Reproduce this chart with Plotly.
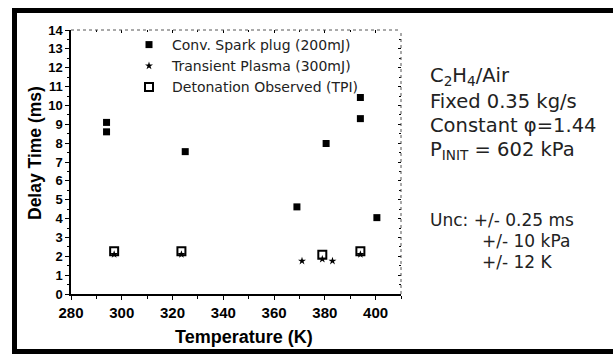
import plotly.graph_objects as go

# Data
spark_T = [294, 294, 325, 369, 380.5, 394, 394, 400.5]
spark_t = [9.1, 8.6, 7.55, 4.62, 7.98, 10.42, 9.3, 4.05]

plasma_T = [297, 323.5, 371, 379, 383, 394]
plasma_t = [2.1, 2.1, 1.75, 1.85, 1.75, 2.1]

deto_T = [297, 323.5, 379, 394]
deto_t = [2.27, 2.27, 2.08, 2.27]

x_ticks = [280, 300, 320, 340, 360, 380, 400]
y_ticks = list(range(0, 15))

names = ["Conv. Spark plug (200mJ)", "Transient Plasma (300mJ)", "Detonation Observed (TPI)"]

fig = go.Figure()
fig.add_trace(go.Scatter(x=spark_T, y=spark_t, mode="markers", name=names[0],
                         marker=dict(symbol="square", size=7, color="black")))
fig.add_trace(go.Scatter(x=plasma_T, y=plasma_t, mode="markers", name=names[1],
                         marker=dict(symbol="star", size=6, color="black")))
fig.add_trace(go.Scatter(x=deto_T, y=deto_t, mode="markers", name=names[2],
                         marker=dict(symbol="square-open", size=8, color="black",
                                     line=dict(width=2, color="black"))))

L, R, T, B = 71, 212, 30, 60
W, H = 613, 354
pw, ph = W - L - R, H - T - B

def px2x(px):
    return (px - L) / pw

def py2y(py):
    return (H - B - py) / ph

fig.update_layout(
    width=W, height=H,
    margin=dict(l=L, r=R, t=T, b=B),
    paper_bgcolor="white", plot_bgcolor="white",
    showlegend=True,
    legend=dict(x=px2x(126), y=py2y(29), xanchor="left", yanchor="top",
                bgcolor="rgba(0,0,0,0)", borderwidth=0,
                font=dict(family="DejaVu Sans", size=14, color="#222"),
                tracegroupgap=0, itemwidth=36),
    xaxis=dict(range=[280, 410], tickvals=x_ticks, ticks="outside", ticklen=4,
               tickcolor="black", showgrid=False, zeroline=False,
               showline=True, linecolor="black", linewidth=1.5,
               tickfont=dict(family="Liberation Sans, Arial", size=15, color="black", weight="bold"),
               minor=dict(dtick=10, ticks="outside", ticklen=3, tickcolor="black")),
    yaxis=dict(range=[0, 14], tickvals=y_ticks, ticks="outside", ticklen=4,
               tickcolor="black", showgrid=False, zeroline=False,
               showline=True, linecolor="black", linewidth=1.5,
               tickfont=dict(family="Liberation Sans, Arial", size=13, color="black", weight="bold"),
               minor=dict(dtick=0.5, ticks="outside", ticklen=2, tickcolor="black")),
    xaxis2=dict(range=[280, 410], overlaying="x", side="top", matches="x",
                tickvals=x_ticks, showticklabels=False, ticks="inside", ticklen=3,
                tickcolor="black", showgrid=False, zeroline=False, showline=False,
                minor=dict(dtick=10, ticks="inside", ticklen=2, tickcolor="black")),
    yaxis2=dict(range=[0, 14], overlaying="y", side="right", matches="y",
                tickvals=y_ticks, showticklabels=False, ticks="inside", ticklen=3,
                tickcolor="black", showgrid=False, zeroline=False, showline=False,
                minor=dict(dtick=0.5, ticks="inside", ticklen=2, tickcolor="black")),
)

# invisible trace to activate the mirror axes
fig.add_trace(go.Scatter(x=[280], y=[0], xaxis="x2", yaxis="y2", mode="markers",
                         marker=dict(opacity=0), showlegend=False, hoverinfo="skip"))

# dotted top and right frame lines
fig.add_shape(type="line", xref="paper", yref="paper", x0=0, x1=1, y0=1, y1=1,
              line=dict(color="#555", width=1, dash="dot"))
fig.add_shape(type="line", xref="paper", yref="paper", x0=1, x1=1, y0=0, y1=1,
              line=dict(color="#555", width=1, dash="dot"))

# outer thick black frame
fig.add_shape(type="rect", xref="paper", yref="paper",
              x0=px2x(14.5), x1=px2x(617), y0=py2y(351.5), y1=py2y(10.5),
              line=dict(color="black", width=5), fillcolor="rgba(0,0,0,0)")

fig.add_annotation(text="Temperature (K)", xref="paper", yref="paper",
                   x=px2x(244), y=py2y(337), xanchor="center", yanchor="middle",
                   showarrow=False, font=dict(family="Liberation Sans, Arial", size=18,
                                              color="black", weight="bold"))
fig.add_annotation(text="Delay Time (ms)", xref="paper", yref="paper", textangle=-90,
                   x=px2x(35), y=py2y(153), xanchor="center", yanchor="middle",
                   showarrow=False, font=dict(family="Liberation Sans, Arial", size=17.5,
                                              color="black", weight="bold"))

info_font = dict(family="DejaVu Sans", size=19.5, color="#222")
info_lines = ["C<sub>2</sub>H<sub>4</sub>/Air", "Fixed 0.35 kg/s",
              "Constant φ=1.44", "P<sub>INIT</sub> = 602 kPa"]
info_y = [77, 101, 125, 150]
for txt, yy in zip(info_lines, info_y):
    fig.add_annotation(text=txt, xref="paper", yref="paper", x=px2x(428), y=py2y(yy),
                       xanchor="left", yanchor="middle", showarrow=False, font=info_font)

unc_font = dict(family="DejaVu Sans", size=17, color="#222")
unc_lines = [("Unc: +/- 0.25 ms", 428, 220), ("+/- 10 kPa", 480, 241), ("+/- 12 K", 480, 262)]
for txt, xx, yy in unc_lines:
    fig.add_annotation(text=txt, xref="paper", yref="paper", x=px2x(xx), y=py2y(yy),
                       xanchor="left", yanchor="middle", showarrow=False, font=unc_font)

fig.write_html("out.html", config={"displayModeBar": False},
               post_script="document.body.style.margin='0';document.body.style.overflow='hidden';")
